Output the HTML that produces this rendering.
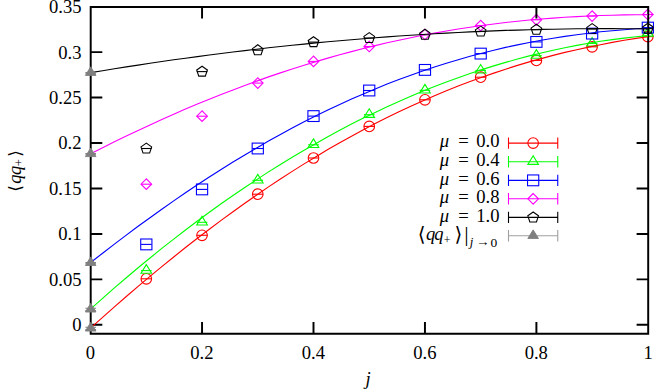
<!DOCTYPE html>
<html lang="en"><head><meta charset="utf-8"><title>Diquark condensate vs j</title><style>html,body{margin:0;padding:0;background:#fff}body{width:654px;height:390px;overflow:hidden;font-family:"Liberation Serif",serif}</style></head><body>
<svg width="654" height="390" viewBox="0 0 654 390" style="display:block">
<rect width="654" height="390" fill="#fff"/>
<g fill="none" stroke="#ff0000" stroke-width="1.1" stroke-miterlimit="10"><path d="M141.02 278.80H151.62"/><circle cx="146.32" cy="278.80" r="5.30"/><path d="M196.75 235.30H207.35"/><circle cx="202.05" cy="235.30" r="5.30"/><path d="M252.47 194.20H263.07"/><circle cx="257.77" cy="194.20" r="5.30"/><path d="M308.20 158.00H318.80"/><circle cx="313.50" cy="158.00" r="5.30"/><path d="M363.93 126.40H374.53"/><circle cx="369.23" cy="126.40" r="5.30"/><path d="M419.65 99.80H430.25"/><circle cx="424.95" cy="99.80" r="5.30"/><path d="M475.38 77.20H485.98"/><circle cx="480.68" cy="77.20" r="5.30"/><path d="M531.10 60.40H541.70"/><circle cx="536.40" cy="60.40" r="5.30"/><path d="M586.83 46.80H597.42"/><circle cx="592.12" cy="46.80" r="5.30"/><path d="M642.55 36.60H653.15"/><circle cx="647.85" cy="36.60" r="5.30"/></g>
<g fill="none" stroke="#00ff00" stroke-width="1.1" stroke-miterlimit="10"><path d="M141.02 270.60H151.62"/><path d="M146.32 264.66L141.02 273.25H151.62Z"/><path d="M196.75 222.30H207.35"/><path d="M202.05 216.36L196.75 224.95H207.35Z"/><path d="M252.47 180.30H263.07"/><path d="M257.77 174.36L252.47 182.95H263.07Z"/><path d="M308.20 144.80H318.80"/><path d="M313.50 138.86L308.20 147.45H318.80Z"/><path d="M363.93 114.70H374.53"/><path d="M369.23 108.76L363.93 117.35H374.53Z"/><path d="M419.65 90.30H430.25"/><path d="M424.95 84.36L419.65 92.95H430.25Z"/><path d="M475.38 70.40H485.98"/><path d="M480.68 64.46L475.38 73.05H485.98Z"/><path d="M531.10 55.60H541.70"/><path d="M536.40 49.66L531.10 58.25H541.70Z"/><path d="M586.83 43.40H597.42"/><path d="M592.12 37.46L586.83 46.05H597.42Z"/><path d="M642.55 33.50H653.15"/><path d="M647.85 27.56L642.55 36.15H653.15Z"/></g>
<g fill="none" stroke="#0000ff" stroke-width="1.1" stroke-miterlimit="10"><path d="M141.02 244.40H151.62"/><rect x="140.72" y="239.00" width="11.2" height="10.8"/><path d="M196.75 189.40H207.35"/><rect x="196.45" y="184.00" width="11.2" height="10.8"/><path d="M252.47 148.50H263.07"/><rect x="252.17" y="143.10" width="11.2" height="10.8"/><path d="M308.20 116.10H318.80"/><rect x="307.90" y="110.70" width="11.2" height="10.8"/><path d="M363.93 90.50H374.53"/><rect x="363.62" y="85.10" width="11.2" height="10.8"/><path d="M419.65 69.90H430.25"/><rect x="419.35" y="64.50" width="11.2" height="10.8"/><path d="M475.38 53.60H485.98"/><rect x="475.08" y="48.20" width="11.2" height="10.8"/><path d="M531.10 41.90H541.70"/><rect x="530.80" y="36.50" width="11.2" height="10.8"/><path d="M586.83 33.60H597.42"/><rect x="586.52" y="28.20" width="11.2" height="10.8"/><path d="M642.55 27.60H653.15"/><rect x="642.25" y="22.20" width="11.2" height="10.8"/></g>
<g fill="none" stroke="#ff00ff" stroke-width="1.1" stroke-miterlimit="10"><path d="M141.02 184.20H151.62"/><path d="M146.32 178.90L141.02 184.20L146.32 189.50L151.62 184.20Z"/><path d="M196.75 116.20H207.35"/><path d="M202.05 110.90L196.75 116.20L202.05 121.50L207.35 116.20Z"/><path d="M252.47 83.10H263.07"/><path d="M257.77 77.80L252.47 83.10L257.77 88.40L263.07 83.10Z"/><path d="M308.20 61.40H318.80"/><path d="M313.50 56.10L308.20 61.40L313.50 66.70L318.80 61.40Z"/><path d="M363.93 46.50H374.53"/><path d="M369.23 41.20L363.93 46.50L369.23 51.80L374.53 46.50Z"/><path d="M419.65 34.50H430.25"/><path d="M424.95 29.20L419.65 34.50L424.95 39.80L430.25 34.50Z"/><path d="M475.38 25.60H485.98"/><path d="M480.68 20.30L475.38 25.60L480.68 30.90L485.98 25.60Z"/><path d="M531.10 19.80H541.70"/><path d="M536.40 14.50L531.10 19.80L536.40 25.10L541.70 19.80Z"/><path d="M586.83 16.10H597.42"/><path d="M592.12 10.80L586.83 16.10L592.12 21.40L597.42 16.10Z"/><path d="M642.55 14.50H653.15"/><path d="M647.85 9.20L642.55 14.50L647.85 19.80L653.15 14.50Z"/></g>
<g fill="none" stroke="#000000" stroke-width="1.1" stroke-miterlimit="10"><path d="M141.02 148.50H151.62"/><path d="M146.32 143.10L141.00 146.90L143.03 153.05L149.62 153.05L151.65 146.90Z"/><path d="M196.75 71.60H207.35"/><path d="M202.05 66.20L196.72 70.00L198.76 76.15L205.34 76.15L207.38 70.00Z"/><path d="M252.47 50.20H263.07"/><path d="M257.77 44.80L252.45 48.60L254.48 54.75L261.07 54.75L263.10 48.60Z"/><path d="M308.20 42.10H318.80"/><path d="M313.50 36.70L308.17 40.50L310.21 46.65L316.79 46.65L318.83 40.50Z"/><path d="M363.93 38.00H374.53"/><path d="M369.23 32.60L363.90 36.40L365.93 42.55L372.52 42.55L374.55 36.40Z"/><path d="M419.65 34.70H430.25"/><path d="M424.95 29.30L419.62 33.10L421.66 39.25L428.24 39.25L430.28 33.10Z"/><path d="M475.38 31.50H485.98"/><path d="M480.68 26.10L475.35 29.90L477.38 36.05L483.97 36.05L486.00 29.90Z"/><path d="M531.10 29.70H541.70"/><path d="M536.40 24.30L531.07 28.10L533.11 34.25L539.69 34.25L541.73 28.10Z"/><path d="M586.83 29.00H597.42"/><path d="M592.12 23.60L586.80 27.40L588.83 33.55L595.42 33.55L597.45 27.40Z"/><path d="M642.55 28.60H653.15"/><path d="M647.85 23.20L642.52 27.00L644.56 33.15L651.14 33.15L653.18 27.00Z"/></g>
<path d="M90.7 6.95H648.2V333.65H90.7ZM90.7 324.80h11.6M648.2 324.80h-11.6M90.7 279.36h11.6M648.2 279.36h-11.6M90.7 233.91h11.6M648.2 233.91h-11.6M90.7 188.47h11.6M648.2 188.47h-11.6M90.7 143.02h11.6M648.2 143.02h-11.6M90.7 97.58h11.6M648.2 97.58h-11.6M90.7 52.13h11.6M648.2 52.13h-11.6M202.05 333.65v-11.6M202.05 6.95v11.6M313.50 333.65v-11.6M313.50 6.95v11.6M424.95 333.65v-11.6M424.95 6.95v11.6M536.40 333.65v-11.6M536.40 6.95v11.6" fill="none" stroke="#000" stroke-width="1.95" stroke-linejoin="miter"/>
<path d="M90.7 327.9L102.6 317.3L114.4 306.8L126.3 296.5L138.1 286.3L150.0 276.4L161.8 266.6L173.7 257.0L185.5 247.5L197.4 238.3L209.3 229.2L221.1 220.4L233.0 211.7L244.8 203.2L256.7 195.0L268.5 186.9L280.4 179.0L292.2 171.4L304.1 163.9L316.0 156.7L327.8 149.6L339.7 142.8L351.5 136.2L363.4 129.8L375.2 123.6L387.1 117.6L398.9 111.8L410.8 106.3L422.6 100.9L434.5 95.7L446.4 90.8L458.2 86.1L470.1 81.5L481.9 77.2L493.8 73.1L505.6 69.2L517.5 65.4L529.3 61.9L541.2 58.6L553.1 55.4L564.9 52.4L576.8 49.7L588.6 47.1L600.5 44.7L612.3 42.4L624.2 40.3L636.0 38.4L647.9 36.7" fill="none" stroke="#ff0000" stroke-width="1.12"/>
<path d="M90.7 308.9L102.6 298.3L114.4 287.9L126.3 277.7L138.1 267.8L150.0 258.0L161.8 248.4L173.7 239.1L185.5 230.0L197.4 221.0L209.3 212.3L221.1 203.8L233.0 195.5L244.8 187.5L256.7 179.6L268.5 171.9L280.4 164.5L292.2 157.2L304.1 150.2L316.0 143.4L327.8 136.7L339.7 130.3L351.5 124.1L363.4 118.1L375.2 112.4L387.1 106.8L398.9 101.4L410.8 96.3L422.6 91.3L434.5 86.6L446.4 82.0L458.2 77.7L470.1 73.5L481.9 69.6L493.8 65.9L505.6 62.4L517.5 59.0L529.3 55.9L541.2 53.0L553.1 50.3L564.9 47.7L576.8 45.4L588.6 43.3L600.5 41.3L612.3 39.6L624.2 38.1L636.0 36.7L647.9 35.6" fill="none" stroke="#00ff00" stroke-width="1.12"/>
<path d="M90.7 262.5L102.6 253.2L114.4 244.1L126.3 235.1L138.1 226.3L150.0 217.7L161.8 209.2L173.7 200.9L185.5 192.7L197.4 184.8L209.3 177.0L221.1 169.5L233.0 162.1L244.8 154.9L256.7 147.9L268.5 141.1L280.4 134.5L292.2 128.1L304.1 121.8L316.0 115.8L327.8 110.0L339.7 104.4L351.5 99.0L363.4 93.9L375.2 88.9L387.1 84.1L398.9 79.5L410.8 75.2L422.6 71.0L434.5 67.0L446.4 63.3L458.2 59.7L470.1 56.3L481.9 53.2L493.8 50.2L505.6 47.4L517.5 44.9L529.3 42.5L541.2 40.2L553.1 38.2L564.9 36.4L576.8 34.7L588.6 33.2L600.5 31.8L612.3 30.7L624.2 29.7L636.0 28.8L647.9 28.1" fill="none" stroke="#0000ff" stroke-width="1.12"/>
<path d="M90.7 153.7L102.6 147.7L114.4 141.8L126.3 136.1L138.1 130.4L150.0 124.9L161.8 119.5L173.7 114.2L185.5 109.1L197.4 104.1L209.3 99.2L221.1 94.5L233.0 89.9L244.8 85.4L256.7 81.1L268.5 76.9L280.4 72.9L292.2 69.0L304.1 65.2L316.0 61.6L327.8 58.1L339.7 54.8L351.5 51.6L363.4 48.5L375.2 45.6L387.1 42.8L398.9 40.2L410.8 37.7L422.6 35.3L434.5 33.1L446.4 31.0L458.2 29.0L470.1 27.2L481.9 25.5L493.8 24.0L505.6 22.5L517.5 21.2L529.3 20.0L541.2 19.0L553.1 18.1L564.9 17.3L576.8 16.6L588.6 16.0L600.5 15.5L612.3 15.2L624.2 14.9L636.0 14.8L647.9 14.7" fill="none" stroke="#ff00ff" stroke-width="1.12"/>
<path d="M90.7 72.6L102.6 70.7L114.4 68.8L126.3 66.9L138.1 65.1L150.0 63.3L161.8 61.5L173.7 59.8L185.5 58.2L197.4 56.6L209.3 55.0L221.1 53.5L233.0 52.0L244.8 50.6L256.7 49.2L268.5 47.8L280.4 46.5L292.2 45.3L304.1 44.1L316.0 42.9L327.8 41.8L339.7 40.7L351.5 39.7L363.4 38.7L375.2 37.8L387.1 36.9L398.9 36.0L410.8 35.2L422.6 34.5L434.5 33.7L446.4 33.1L458.2 32.5L470.1 31.9L481.9 31.4L493.8 30.9L505.6 30.4L517.5 30.1L529.3 29.7L541.2 29.4L553.1 29.2L564.9 29.0L576.8 28.8L588.6 28.7L600.5 28.6L612.3 28.6L624.2 28.7L636.0 28.7L647.9 28.9" fill="none" stroke="#000000" stroke-width="1.12"/>
<g fill="#7f7f7f" stroke="#7f7f7f" stroke-width="0.9" stroke-linejoin="miter"><path d="M85.40 72.40h10.60M85.40 73.10h10.60" fill="none" stroke-width="1.05"/><path d="M90.70 66.81L85.40 75.40H96.00Z"/><path d="M85.40 153.60h10.60M85.40 154.30h10.60" fill="none" stroke-width="1.05"/><path d="M90.70 148.01L85.40 156.60H96.00Z"/><path d="M85.40 262.50h10.60M85.40 263.20h10.60" fill="none" stroke-width="1.05"/><path d="M90.70 256.91L85.40 265.50H96.00Z"/><path d="M85.40 308.15h10.60M85.40 310.55h10.60" fill="none" stroke-width="1.05"/><path d="M90.70 303.41L85.40 312.00H96.00Z"/><path d="M85.40 327.20h10.60M85.40 329.60h10.60" fill="none" stroke-width="1.05"/><path d="M90.70 322.46L85.40 331.05H96.00Z"/></g>
<g fill="none" stroke="#ff0000" stroke-width="1.1"><path d="M508.5 143.1H557.75M508.5 137.4v11.4M557.75 137.4v11.4"/><circle cx="533.15" cy="143.10" r="5.30"/></g>
<g fill="none" stroke="#00ff00" stroke-width="1.1"><path d="M508.5 161.75H557.75M508.5 156.05v11.4M557.75 156.05v11.4"/><path d="M533.15 155.81L527.85 164.40H538.45Z"/></g>
<g fill="none" stroke="#0000ff" stroke-width="1.1"><path d="M508.5 180.35H557.75M508.5 174.65v11.4M557.75 174.65v11.4"/><rect x="527.55" y="174.95" width="11.2" height="10.8"/></g>
<g fill="none" stroke="#ff00ff" stroke-width="1.1"><path d="M508.5 198.8H557.75M508.5 193.10000000000002v11.4M557.75 193.10000000000002v11.4"/><path d="M533.15 193.50L527.85 198.80L533.15 204.10L538.45 198.80Z"/></g>
<g fill="none" stroke="#000000" stroke-width="1.1"><path d="M508.5 217.4H557.75M508.5 211.70000000000002v11.4M557.75 211.70000000000002v11.4"/><path d="M533.15 212.00L527.82 215.80L529.86 221.95L536.44 221.95L538.48 215.80Z"/></g>
<path d="M508.5 235.8H557.75M508.5 230.10000000000002v11.4M557.75 230.10000000000002v11.4" fill="none" stroke="#a0a0a0" stroke-width="1.1"/>
<g fill="#7f7f7f" stroke="#7f7f7f" stroke-width="0.9"><path d="M533.15 229.86L527.85 238.45H538.45Z"/></g>
<g font-family="'Liberation Serif', 'DejaVu Serif', 'DejaVu Sans', serif" fill="#000" stroke="none" font-size="18.6"><text x="81.55" y="331.25" text-anchor="end">0</text><text x="81.55" y="285.81" text-anchor="end">0.05</text><text x="81.55" y="240.36" text-anchor="end">0.1</text><text x="81.55" y="194.91" text-anchor="end">0.15</text><text x="81.55" y="149.47" text-anchor="end">0.2</text><text x="81.55" y="104.03" text-anchor="end">0.25</text><text x="81.55" y="58.58" text-anchor="end">0.3</text><text x="81.55" y="13.14" text-anchor="end">0.35</text><text x="90.5" y="358.7" text-anchor="middle">0</text><text x="201.95" y="358.7" text-anchor="middle">0.2</text><text x="313.4" y="358.7" text-anchor="middle">0.4</text><text x="424.85" y="358.7" text-anchor="middle">0.6</text><text x="536.3" y="358.7" text-anchor="middle">0.8</text><text x="648.15" y="358.7" text-anchor="middle">1</text><text x="365.45" y="385" font-style="italic">j</text><text transform="translate(20.55,190.7) rotate(-90)"><tspan x="-1" y="0" font-size="17">⟨</tspan><tspan x="6.85" y="0" font-style="italic">q</tspan><tspan x="15.6" y="0" font-style="italic">q</tspan><tspan x="24.4" y="2.7" font-size="12.4">+</tspan><tspan x="34" y="0" font-size="17">⟩</tspan></text><text y="147.45"><tspan x="439.82" font-style="italic">μ</tspan><tspan x="458.2">=</tspan><tspan x="499.55" text-anchor="end">0.0</tspan></text><text y="166.1"><tspan x="439.82" font-style="italic">μ</tspan><tspan x="458.2">=</tspan><tspan x="499.55" text-anchor="end">0.4</tspan></text><text y="184.7"><tspan x="439.82" font-style="italic">μ</tspan><tspan x="458.2">=</tspan><tspan x="499.55" text-anchor="end">0.6</tspan></text><text y="203.15"><tspan x="439.82" font-style="italic">μ</tspan><tspan x="458.2">=</tspan><tspan x="499.55" text-anchor="end">0.8</tspan></text><text y="221.75"><tspan x="439.82" font-style="italic">μ</tspan><tspan x="458.2">=</tspan><tspan x="499.55" text-anchor="end">1.0</tspan></text><text><tspan x="417.8" y="240.5" font-size="20">⟨</tspan><tspan x="425.9" y="239.55" font-style="italic">q</tspan><tspan x="434.3" y="239.55" font-style="italic">q</tspan><tspan x="443.8" y="244" font-size="11.8">+</tspan><tspan x="454.5" y="240.5" font-size="20">⟩</tspan><tspan x="464.3" y="241" font-size="22">|</tspan><tspan x="469.75" y="246.35" font-size="12.9" font-style="italic">j</tspan><tspan x="476.1" y="246.45" font-size="13.5">→</tspan><tspan x="490.6" y="246.6" font-size="13.5">0</tspan></text></g>
</svg>
</body></html>
